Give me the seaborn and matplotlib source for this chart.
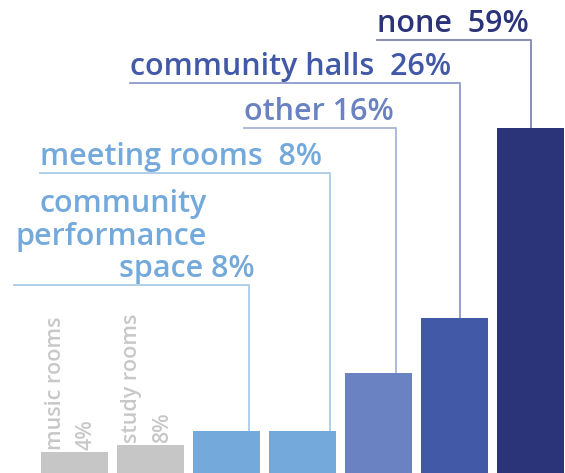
import seaborn as sns
import matplotlib.pyplot as plt

# facilities, in the order of the bars
categories = ["music rooms", "study rooms", "community performance space",
              "meeting rooms", "other", "community halls", "none"]
pct_labels = ["4%", "8%", "8%", "8%", "16%", "26%", "59%"]
# bar heights (percent)
heights = [3.6, 4.8, 7.2, 7.2, 17.1, 26.5, 59]
colors = ["#c6c6c6", "#c6c6c6", "#74a9db", "#74a9db", "#6a82c2", "#4259a8", "#2b3479"]

fig = plt.figure(figsize=(5.65, 4.73), dpi=100)
ax = fig.add_axes([0, 0, 1, 1])
sns.barplot(x=categories, y=heights, hue=categories, palette=colors,
            width=0.88, saturation=1, legend=False, ax=ax)
ax.set_xlim(-0.98, 6.45)
ax.set_ylim(0, 80.85)
ax.axis("off")

font = "Open Sans"
fs = 22

# grey vertical labels above the small bars
for i in [0, 1]:
    ax.text(i - 0.05, heights[i] + 0.3, categories[i] + "\n" + pct_labels[i],
            rotation=90, ha="center", va="bottom", multialignment="left",
            color="#c8c8c8", fontsize=15.5, family=font, fontweight="semibold",
            linespacing=1.65)

# leader labels: (index, text start x, line y, vertical x)
leaders = [(6, 3.98, 74.0, 6.0),
           (5, 0.73, 66.7, 5.07),
           (4, 2.23, 59.0, 4.23),
           (3, -0.45, 51.3, 3.36)]
for i, x0, yl, xv in leaders:
    c = colors[i]
    gap = "  " if i in (3, 5, 6) else " "
    ax.text(x0, yl + 1.3, categories[i] + gap + pct_labels[i], ha="left", va="baseline",
            color=c, fontsize=fs, family=font, fontweight="semibold")
    ax.plot([x0, xv, xv], [yl, yl, heights[i]], color=c, lw=1.3, alpha=0.6)

# community performance space, three lines
c = colors[2]
for txt, xr, yb in [("community", 1.74, 44.6), ("performance", 1.74, 39.0),
                    ("space " + pct_labels[2], 2.375, 33.5)]:
    ax.text(xr, yb, txt, ha="right", va="baseline", color=c, fontsize=fs,
            family=font, fontweight="semibold")
ax.plot([-0.8, 2.3, 2.3], [32.1, 32.1, heights[2]], color=c, lw=1.3, alpha=0.6)

plt.savefig("out.png", dpi=100)
